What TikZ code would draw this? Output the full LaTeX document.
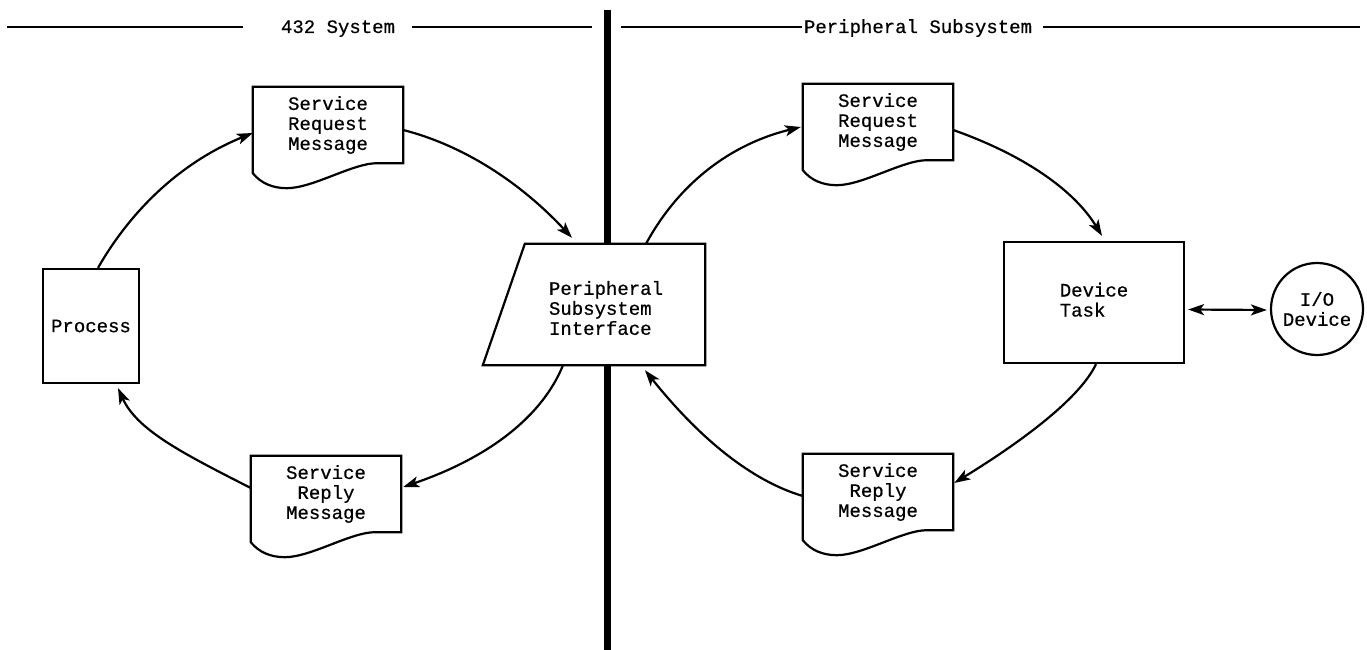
\documentclass[tikz,border=0pt]{standalone}
\usepackage{fontspec}
\setmonofont[FakeBold=0.6,AutoFakeBold=0.6]{Liberation Mono}
\usetikzlibrary{arrows.meta,calc}
\newcommand\docoutline[1]{%
  \draw[ln] (#1.south east) -- (#1.north east) -- (#1.north west) -- ($(#1.south west)+(0,10)$)
    .. controls ($(#1.south west)+(8,20)$) and ($(#1.south west)+(20,25)$) .. ($(#1.south west)+(34,25)$)
    .. controls ($(#1.south west)+(60,25)$) and ($(#1.south west)+(100,0)$) .. ($(#1.south west)+(124,0)$)
    -- cycle;}
\begin{document}
\begin{tikzpicture}[x=1pt,y=-1pt,
  every node/.style={font=\fontsize{19}{20}\selectfont\ttfamily\bfseries},
  ln/.style={line width=2.2pt},
  box/.style={draw, line width=2.2pt, fill=white, inner sep=0pt},
  docnode/.style={rectangle, minimum width=150pt, minimum height=76pt, inner sep=0pt, align=center},
  tip/.style={Stealth[length=16pt,width=11pt,inset=4pt]},
  arr/.style={line width=2.2pt, -{Stealth[length=16pt,width=11pt,inset=4pt]}},
  darr/.style={line width=2.2pt, {Stealth[length=16pt,width=11pt,inset=4pt]}-{Stealth[length=16pt,width=11pt,inset=4pt]}},
]
\useasboundingbox (0,0) rectangle (1367,650);

% header
\node[anchor=base] (hl) at (338,33) {432 System};
\node[anchor=base] (hr) at (918,33) {Peripheral Subsystem};
\coordinate (a1) at (7,27); \coordinate (a2) at (243,27);
\coordinate (a3) at (412,27); \coordinate (a4) at (592,27);
\coordinate (b1) at (621,27); \coordinate (b2) at (802,27);
\coordinate (b3) at (1043,27); \coordinate (b4) at (1360,27);
\draw[ln] (a1) -- (a2); \draw[ln] (a3) -- (a4);
\draw[ln] (b1) -- (b2); \draw[ln] (b3) -- (b4);
\coordinate (bartop) at (607,10); \coordinate (barbot) at (607,650);
\draw[line width=7pt] (bartop) -- (barbot);

% nodes
\node[box, minimum width=96pt, minimum height=114pt] (proc) at (91,326) {Process};
\node[docnode] (srmL) at (328,125) {Service\\Request\\Message};
\docoutline{srmL}
\node[docnode] (srmR) at (878,122) {Service\\Request\\Message};
\docoutline{srmR}
\node[docnode] (repL) at (326,494) {Service\\Reply\\Message};
\docoutline{repL}
\node[docnode] (repR) at (878,492) {Service\\Reply\\Message};
\docoutline{repR}
\node[rectangle, minimum width=222pt, minimum height=121pt, inner sep=0pt] (psi) at (594,304.5) {};
\filldraw[ln, fill=white] (psi.south west) -- ($(psi.north west)+(42,0)$) -- (psi.north east) -- (psi.south east) -- cycle;
\node[align=left, inner sep=0pt] (psit) at (606,308) {Peripheral\\Subsystem\\Interface};
\node[box, minimum width=180pt, minimum height=121pt] (dev) at (1094,302.5) {\begin{tabular}{@{}l@{}}Device\\Task\end{tabular}};
\node[circle, draw, line width=2.2pt, minimum size=92pt, inner sep=0pt, align=center] (io) at (1317,309) {I/O\\Device};

% connectors, left loop
\draw[arr] ($(proc.north)+(7,0)$) .. controls (134,205) and (186,160) .. ($(srmL.west)+(0,8)$);
\draw[arr] ($(srmL.east)+(0,5)$) .. controls (462,145) and (519,181) .. ($(psi.north)+(-22,-6)$);
\draw[arr] ($(psi.south)+(-31,0)$) .. controls (542,417) and (488,458) .. ($(repL.east)+(2,-7)$);
\draw[arr] ($(repL.west)+(0,-6)$) .. controls (182,453) and (137,430) .. ($(proc.south)+(27,4)$);
% right loop
\draw[arr] ($(psi.north)+(52,0)$) .. controls (679,183) and (731,144) .. ($(srmR.west)+(-2,5)$);
\draw[arr] ($(srmR.east)+(0,8)$) .. controls (1024,155) and (1074,190) .. ($(dev.north)+(8,-5)$);
\draw[arr] ($(dev.south)+(2,0)$) .. controls (1082,394) and (1034,434) .. ($(repR.east)+(1,-9)$);
\draw[arr] ($(repR.west)+(0,4)$) .. controls (752,481) and (700,439) .. ($(psi.south)+(51,5)$);
\draw[darr] ($(dev.east)+(3,7)$) -- ($(io.west)+(-3,1)$);
\end{tikzpicture}
\end{document}
